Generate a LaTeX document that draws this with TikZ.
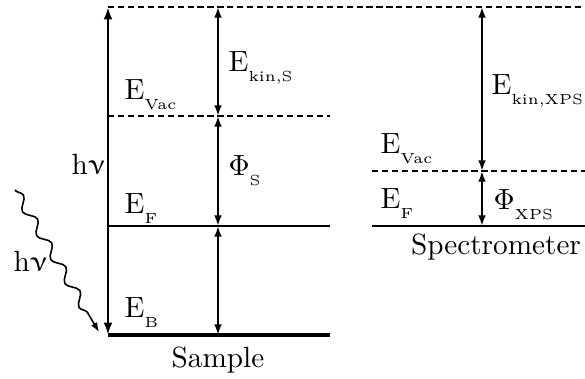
\documentclass[tikz,border=0pt]{standalone}
\usepackage{upgreek}
\usetikzlibrary{arrows.meta,decorations.pathmorphing}
\newcommand\lvsub[1]{\raisebox{-3.4pt}{\fontsize{5}{6}\selectfont #1}}
\tikzset{
  lvl/.style={line width=1pt},
  lvlB/.style={line width=1.5pt},
  vac/.style={line width=0.8pt,dash pattern=on 2.1pt off 1.3pt},
  arr/.style={line width=0.8pt,{Latex[length=3.6pt,width=2.6pt]}-{Latex[length=3.6pt,width=2.6pt]}},
  bigarr/.style={line width=1pt,{Latex[length=4.2pt,width=3pt]}-{Latex[length=4.2pt,width=3pt]}},
  lab/.style={anchor=base west,inner sep=0pt,font=\fontsize{10}{12}\selectfont},
}
\begin{document}
\begin{tikzpicture}[x=0.342pt,y=-0.342pt]
\useasboundingbox (0,0) rectangle (585,379);
% coordinates
\coordinate (tL) at (108,7);
\coordinate (tR) at (585,7);
\coordinate (vL) at (108,116);
\coordinate (vR) at (330,116);
\coordinate (fL) at (108,226);
\coordinate (fR) at (330,226);
\coordinate (bL) at (108,335);
\coordinate (bR) at (330,335);
\coordinate (svL) at (372,171);
\coordinate (svR) at (585,171);
\coordinate (sfL) at (372,226);
\coordinate (sfR) at (585,226);
\coordinate (mT) at (218,7);
\coordinate (mV) at (218,116);
\coordinate (mF) at (218,226);
\coordinate (mB) at (218,335);
\coordinate (sT) at (482,7);
\coordinate (sV) at (482,171);
\coordinate (sF) at (482,226);
\coordinate (wS) at (15,190);
\coordinate (wE) at (99,332);
% levels
\draw[vac] (tL) -- (tR);
\draw[vac] (vL) -- (vR);
\draw[lvl] (fL) -- (fR);
\draw[lvlB] (bL) -- (bR);
\draw[vac] (svL) -- (svR);
\draw[lvl] (sfL) -- (sfR);
% arrows
\draw[bigarr] (bL) -- (tL);
\draw[arr] (mT) -- (mV);
\draw[arr] (mV) -- (mF);
\draw[arr] (mF) -- (mB);
\draw[arr] (sT) -- (sV);
\draw[arr] (sV) -- (sF);
\draw[line width=0.55pt,-{Latex[length=3.2pt,width=2.4pt]},decorate,
  decoration={snake,amplitude=1.6pt,segment length=9.5pt,post length=4pt}] (wS) -- (wE);
% labels
\node[lab] (ekins) at (228,72) {E\lvsub{kin,S}};
\node[lab] (evac) at (124,100) {E\lvsub{Vac}};
\node[lab] (hv1) at (71,175) {h$\upnu$};
\node[lab] (phis) at (228,176) {$\Phi$\lvsub{S}};
\node[lab] (ef) at (124,214) {E\lvsub{F}};
\node[lab] (eb) at (124,318) {E\lvsub{B}};
\node[lab] (hv2) at (13,272) {h$\upnu$};
\node[anchor=base,inner sep=0pt] (sample) at (218,368) {Sample};
\node[lab] (ekinx) at (491,95) {E\lvsub{kin,XPS}};
\node[lab] (svac) at (380,154) {E\lvsub{Vac}};
\node[lab] (sef) at (380,209) {E\lvsub{F}};
\node[lab] (phix) at (493,210) {$\Phi$\lvsub{XPS}};
\node[anchor=base,inner sep=0pt] (spec) at (496,255) {Spectrometer};
\end{tikzpicture}
\end{document}
